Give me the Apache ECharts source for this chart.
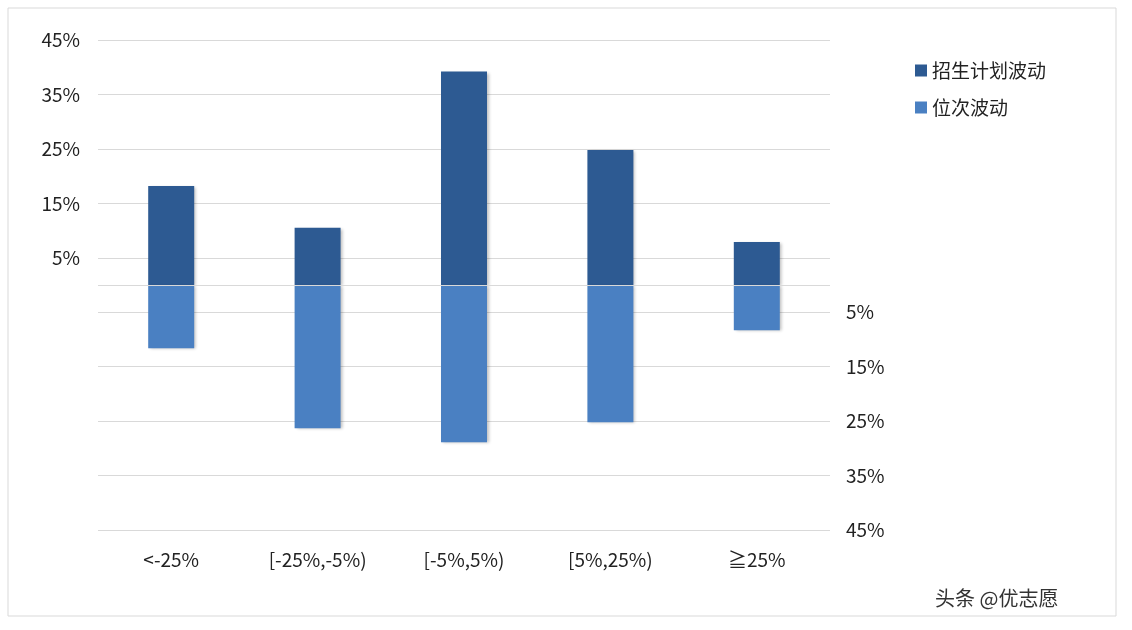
<!DOCTYPE html>
<html><head><meta charset="utf-8">
<script src="https://cdn.jsdelivr.net/npm/echarts@6/dist/echarts.min.js"></script>
<style>html,body{margin:0;padding:0;background:#fff}#c{width:1132px;height:630px}</style>
</head><body><div id="c"></div>
<script>
const categories = ['<-25%', '[-25%,-5%)', '[-5%,5%)', '[5%,25%)', '≧25%'];
const planValues = [18.2, 10.5, 39.2, 24.8, 7.9];
const rankValues = [-11.6, -26.3, -28.9, -25.2, -8.3];
const seriesNames = ['招生计划波动', '位次波动'];

const chart = echarts.init(document.getElementById('c'));
const font = '"Microsoft YaHei","Noto Sans CJK SC",sans-serif';
const yBase = {type:'value', min:-45, max:45, interval:10,
  axisLine:{show:false}, axisTick:{show:false}};
chart.setOption({
  animation:false,
  graphic:[
    {type:'rect', shape:{x:8,y:8,width:1108,height:608}, style:{fill:'none',stroke:'#d9d9d9',lineWidth:1}},
    {type:'text', left:935, top:588, style:{text:'头条 @优志愿', fill:'#333', font:'20px '+font}}
  ],
  legend:{orient:'vertical', left:910, top:56, itemWidth:12, itemHeight:12, itemGap:18,
    icon:'rect', textStyle:{fontSize:19, color:'#222', fontFamily:font}},
  grid:{left:98, right:302, top:40, bottom:100},
  xAxis:{type:'category', data:categories,
    axisLine:{show:false}, axisTick:{show:false},
    axisLabel:{fontSize:19, color:'#222', margin:20, fontFamily:font}},
  yAxis:[
    Object.assign({}, yBase, {position:'left',
      splitLine:{lineStyle:{color:'#d9d9d9'}},
      axisLabel:{fontSize:19, color:'#222', fontFamily:font, margin:18,
        formatter:v => v > 0 ? v + '%' : ''}}),
    Object.assign({}, yBase, {position:'right', splitLine:{show:false},
      axisLabel:{fontSize:19, color:'#222', fontFamily:font, margin:16,
        formatter:v => v < 0 ? (-v) + '%' : ''}})
  ],
  series:[
    {name:seriesNames[0], type:'bar', stack:'a', data:planValues, barWidth:46,
      itemStyle:{color:'#2d5a92', shadowColor:'rgba(0,0,0,0.25)', shadowBlur:3, shadowOffsetX:2, shadowOffsetY:1},
      markLine:{silent:true, symbol:'none', label:{show:false},
        lineStyle:{color:'#d9d9d9', type:'solid', width:1}, data:[{yAxis:0}]}},
    {name:seriesNames[1], type:'bar', stack:'a', data:rankValues, barWidth:46,
      itemStyle:{color:'#4a80c2', shadowColor:'rgba(0,0,0,0.25)', shadowBlur:3, shadowOffsetX:2, shadowOffsetY:1}}
  ]
});
</script></body></html>
